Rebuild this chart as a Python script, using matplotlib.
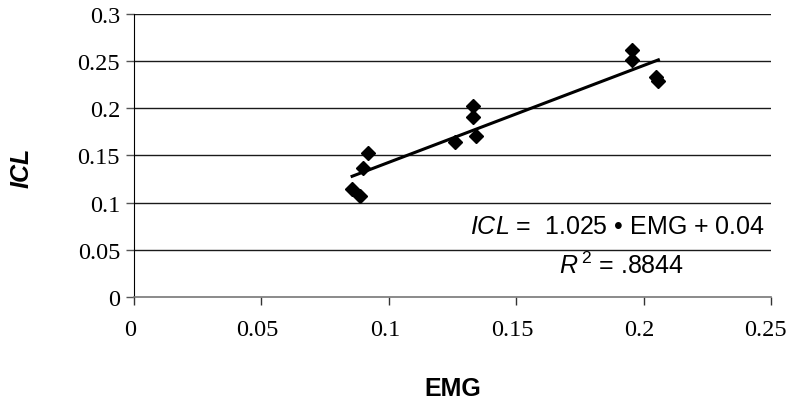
import numpy as np
import matplotlib
matplotlib.use("Agg")
import matplotlib.pyplot as plt
from matplotlib.transforms import ScaledTranslation

plt.rcParams["mathtext.fontset"] = "custom"
plt.rcParams["mathtext.rm"] = "Liberation Sans"
plt.rcParams["mathtext.it"] = "Liberation Sans:italic"

# EMG vs ICL values
emg = [0.0856, 0.0887, 0.0898, 0.0920, 0.1260, 0.1329, 0.1329, 0.1341,
       0.1956, 0.1953, 0.2049, 0.2058]
icl = [0.1143, 0.1066, 0.1368, 0.1524, 0.1644, 0.2018, 0.1901, 0.1707,
       0.2617, 0.2511, 0.2331, 0.2282]
slope = 1.025
intercept = 0.04
r2_text = ".8844"

xticks = [0, 0.05, 0.1, 0.15, 0.2, 0.25]
yticks = [0, 0.05, 0.1, 0.15, 0.2, 0.25, 0.3]

fig = plt.figure(figsize=(7.91, 4.02), dpi=100)
ax = fig.add_axes([0.1694, 0.2587, 0.8053, 0.7052])

# horizontal grid lines
for yv in yticks[1:]:
    ax.axhline(yv, color="#1a1a1a", lw=1.0, zorder=1)

ax.plot(emg, icl, "D", color="black", markersize=7.5, zorder=3)

# trend line over the data range
xl = np.array([min(emg), max(emg)])
ax.plot(xl, slope * xl + intercept, color="black", lw=2.2, zorder=2)

ax.set_xlim(0, 0.25)
ax.set_ylim(0, 0.3)
ax.set_xticks(xticks)
ax.set_yticks(yticks)
ax.set_xticklabels(["0", "0.05", "0.1", "0.15", "0.2", "0.25"])
ax.set_yticklabels(["0", "0.05", "0.1", "0.15", "0.2", "0.25", "0.3"])
for lab in ax.get_xticklabels() + ax.get_yticklabels():
    lab.set_family("Liberation Serif")
    lab.set_fontsize(17.5)

ax.tick_params(axis="y", direction="out", length=6, width=1, pad=4, color="#555")
ax.tick_params(axis="x", direction="out", length=6, width=1, pad=10, color="#333")

# x tick labels sit a little left of their ticks in the original
shift = ScaledTranslation(-4 / 100, 0, fig.dpi_scale_trans)
for i, tick in enumerate(ax.xaxis.get_major_ticks()):
    extra = -2 / 100 if i == len(xticks) - 1 else 0
    tick.label1.set_transform(tick.label1.get_transform() + shift +
                              ScaledTranslation(extra, 0, fig.dpi_scale_trans))

ax.spines["top"].set_visible(False)
ax.spines["right"].set_visible(False)
ax.spines["left"].set_color("black")
ax.spines["bottom"].set_color("#777777")
ax.spines["bottom"].set_linewidth(1.2)

ax.set_xlabel("EMG", fontsize=18, fontweight="bold", family="Liberation Sans")
ax.set_ylabel("ICL", fontsize=18, fontweight="bold", fontstyle="italic",
              family="Liberation Sans")
ax.xaxis.set_label_coords(0.5, -0.28)
ax.yaxis.set_label_coords(-0.158, 0.46)

ax.text(0.2477, 0.075, r"$\mathit{ICL}$ =  1.025 • EMG + 0.04",
        ha="right", va="center", fontsize=18, family="Liberation Sans")
ax.text(0.1915, 0.034, r"$\mathit{R}^{\,2}$ = " + r2_text,
        ha="center", va="center", fontsize=18, family="Liberation Sans")

fig.savefig("out.png", dpi=100)
